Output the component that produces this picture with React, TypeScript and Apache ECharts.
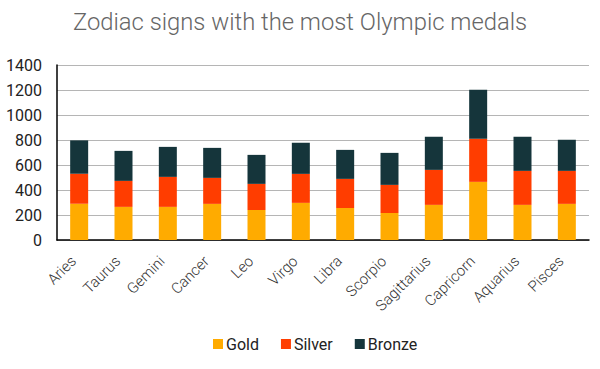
import React, { useEffect, useRef } from "react";
import * as echarts from "echarts";

const categories = ["Aries", "Taurus", "Gemini", "Cancer", "Leo", "Virgo", "Libra", "Scorpio", "Sagittarius", "Capricorn", "Aquarius", "Pisces"];
const gold = [290, 265, 265, 289, 240, 297, 256, 216, 281, 465, 281, 289];
const silver = [240, 208, 240, 208, 209, 232, 233, 225, 280, 345, 272, 264];
const bronze = [267, 240, 240, 240, 232, 249, 232, 256, 265, 392, 273, 249];
const yTicks = { min: 0, max: 1400, interval: 200 };

export default function App() {
  const ref = useRef<HTMLDivElement>(null);
  useEffect(() => {
    const chart = echarts.init(ref.current!, null, { renderer: "svg" });
    const font = "Roboto, sans-serif";
    chart.setOption({
      animation: false,
      title: {
        text: "Zodiac signs with the most Olympic medals",
        left: "center",
        top: 5,
        textStyle: { fontFamily: font, fontSize: 23.8, fontWeight: 300, color: "#666" },
      },
      legend: {
        bottom: 12,
        left: 208,
        itemWidth: 10,
        itemHeight: 10,
        itemGap: 22,
        icon: "rect",
        textStyle: { fontFamily: font, fontSize: 16, color: "#222", padding: [0, 0, 0, -2] },
        data: ["Gold", "Silver", "Bronze"],
      },
      grid: { left: 57, right: 11, top: 65, bottom: 129, containLabel: false },
      xAxis: {
        type: "category",
        data: categories,
        axisLine: { lineStyle: { color: "#000", width: 1.5 } },
        axisTick: { show: false },
        axisLabel: { rotate: 45, fontFamily: font, fontSize: 15, fontWeight: 300, color: "#333", margin: 13, padding: [0, 8, 0, 0], interval: 0 },
      },
      yAxis: {
        type: "value",
        min: yTicks.min,
        max: yTicks.max,
        interval: yTicks.interval,
        axisLine: { show: true, lineStyle: { color: "#000", width: 1.5 } },
        axisTick: { show: false },
        axisLabel: { fontFamily: font, fontSize: 16, color: "#222", margin: 15, formatter: (v: number) => String(v) },
        splitLine: { lineStyle: { color: "#b5b5b5", width: 1 } },
      },
      series: [
        { name: "Gold", type: "bar", stack: "m", data: gold, barWidth: 18, itemStyle: { color: "#FFAB00" } },
        { name: "Silver", type: "bar", stack: "m", data: silver, barWidth: 18, itemStyle: { color: "#FF3D00" } },
        { name: "Bronze", type: "bar", stack: "m", data: bronze, barWidth: 18, itemStyle: { color: "#15353B" } },
      ],
    });
    return () => chart.dispose();
  }, []);
  return <div ref={ref} style={{ width: 600, height: 369, position: "absolute", left: 0, top: 0 }} />;
}
